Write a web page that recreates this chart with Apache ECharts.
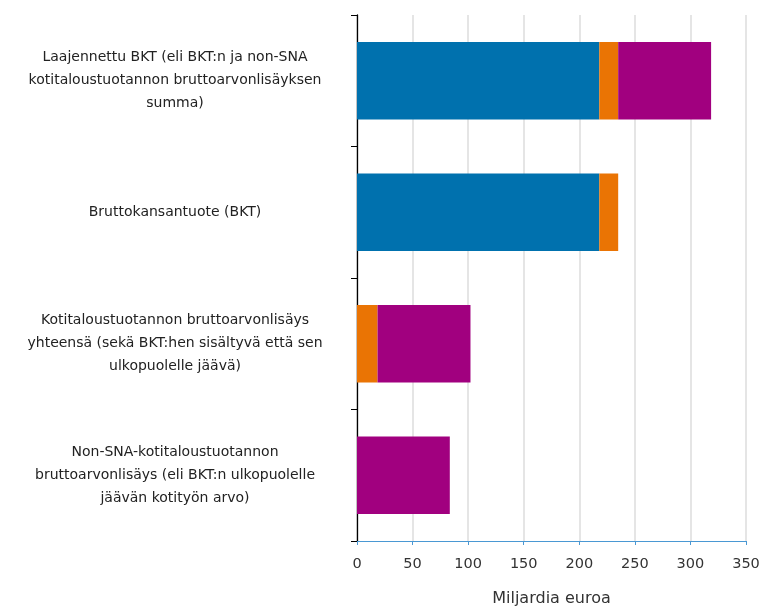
<!DOCTYPE html>
<html><head><meta charset="utf-8">
<script src="https://cdn.jsdelivr.net/npm/echarts@6/dist/echarts.min.js"></script>
<style>html,body{margin:0;padding:0;background:#fff}#c{width:762px;height:606px}</style>
</head><body><div id="c"></div>
<script>
const categories = [
  "Laajennettu BKT (eli BKT:n ja non-SNA\nkotitaloustuotannon bruttoarvonlisäyksen\nsumma)",
  "Bruttokansantuote (BKT)",
  "Kotitaloustuotannon bruttoarvonlisäys\nyhteensä (sekä BKT:hen sisältyvä että sen\nulkopuolelle jäävä)",
  "Non-SNA-kotitaloustuotannon\nbruttoarvonlisäys (eli BKT:n ulkopuolelle\njäävän kotityön arvo)"
];
const bktMuu = [218, 218, 0, 0];
const bktKotitalous = [17, 17, 18.5, 0];
const nonSna = [83.6, 0, 83.6, 83.5];
const xTicks = [0, 50, 100, 150, 200, 250, 300, 350];

const chart = echarts.init(document.getElementById('c'));
const font = 'DejaVu Sans';
chart.setOption({
  animation: false,
  grid: {left: 357, right: 16, top: 15, bottom: 65, containLabel: false, outerBoundsMode: 'none'},
  xAxis: {
    type: 'value', min: xTicks[0], max: xTicks[xTicks.length-1], interval: 50,
    name: 'Miljardia euroa', nameLocation: 'middle', nameGap: 50,
    nameTextStyle: {fontFamily: font, fontSize: 16, color: '#333'},
    axisLine: {show: true, lineStyle: {color: '#4a98d3', width: 1}},
    axisTick: {show: true, length: 4, lineStyle: {color: '#4a98d3'}},
    axisLabel: {fontFamily: font, fontSize: 14.5, color: '#333', margin: 16},
    splitLine: {show: true, lineStyle: {color: '#dcdcdc', type: 'solid', width: 1.5}}
  },
  yAxis: {
    type: 'category', data: categories, inverse: true,
    axisLine: {show: true, lineStyle: {color: '#000', width: 1.3}},
    axisTick: {show: true, length: 6, lineStyle: {color: '#000'}},
    axisLabel: {fontFamily: font, fontSize: 14, color: '#222', align: 'center', margin: 182, lineHeight: 23}
  },
  series: [
    {name: 'BKT (pl. kotitaloustuotanto)', type: 'bar', stack: 't', data: bktMuu, barCategoryGap: '41%', itemStyle: {color: '#0071ae'}},
    {name: 'BKT:hen sisältyvä kotitaloustuotanto', type: 'bar', stack: 't', data: bktKotitalous, itemStyle: {color: '#ea7404'}},
    {name: 'Non-SNA-kotitaloustuotanto', type: 'bar', stack: 't', data: nonSna, itemStyle: {color: '#a1007f'}}
  ]
});
</script></body></html>
